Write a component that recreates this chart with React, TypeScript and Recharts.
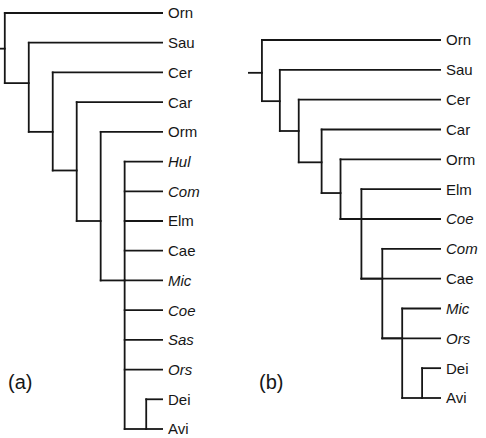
import { LineChart, Line, XAxis, YAxis } from "recharts";

// tree (a): leaves top to bottom
const A_NAMES = ["Orn", "Sau", "Cer", "Car", "Orm", "Hul", "Com", "Elm", "Cae", "Mic", "Coe", "Sas", "Ors", "Dei", "Avi"];
const A_ITALIC = [false, false, false, false, false, true, true, false, false, true, true, true, true, false, false];
const A_LEAF_PARENT = [0, 1, 2, 3, 4, 5, 5, 5, 5, 5, 5, 5, 5, 6, 6];
// internal nodes: depth, vertical span (rows), row where it joins its parent
const A_DEPTH = [0, 1, 2, 3, 4, 5, 5.9];
const A_TOP = [0, 1, 2, 3, 4, 5, 13];
const A_BOTTOM = [2.36, 4, 5.3, 7, 9, 14, 14];
const A_JOIN = [1.2, 2.36, 4, 5.3, 7, 9, 14];
const A_PARENT = [-1, 0, 1, 2, 3, 4, 5];

// tree (b)
const B_NAMES = ["Orn", "Sau", "Cer", "Car", "Orm", "Elm", "Coe", "Com", "Cae", "Mic", "Ors", "Dei", "Avi"];
const B_ITALIC = [false, false, false, false, false, false, true, true, false, true, true, false, false];
const B_LEAF_PARENT = [0, 1, 2, 3, 4, 5, 4, 6, 5, 7, 6, 8, 8];
const B_DEPTH = [0, 0.9, 1.85, 3, 3.95, 5, 6.05, 7.05, 8.05];
const B_TOP = [0, 1, 2, 3, 4, 5, 7, 9, 11];
const B_BOTTOM = [2.05, 3.05, 4.1, 5.13, 6, 8, 10, 12, 12];
const B_JOIN = [1.1, 2.05, 3.05, 4.1, 5.13, 6, 8, 10, 12];
const B_PARENT = [-1, 0, 1, 2, 3, 4, 5, 6, 7];

const FONT = "'Liberation Sans', Arial, Helvetica, sans-serif";
const INK = "#161616";

type Pt = { x: number; y: number };

function buildSegments(
  depth: number[],
  top: number[],
  bottom: number[],
  join: number[],
  parent: number[],
  leafParent: number[],
  leafEnd: number,
  stub: number
): Pt[][] {
  const segs: Pt[][] = [];
  depth.forEach((d, i) => {
    segs.push([{ x: d, y: top[i] }, { x: d, y: bottom[i] }]);
    const from = parent[i] < 0 ? stub : depth[parent[i]];
    segs.push([{ x: from, y: join[i] }, { x: d, y: join[i] }]);
  });
  leafParent.forEach((p, row) => {
    segs.push([{ x: depth[p], y: row }, { x: leafEnd, y: row }]);
  });
  return segs;
}

function makeTick(names: string[], italic: boolean[]) {
  return (props: any) => {
    const { x, y, payload } = props;
    const i = payload.value;
    return (
      <text
        x={x}
        y={y}
        dy="0.36em"
        textAnchor="start"
        fontSize={15}
        fontFamily={FONT}
        fontStyle={italic[i] ? "italic" : "normal"}
        fill={INK}
      >
        {names[i]}
      </text>
    );
  };
}

function Tree({
  names,
  italic,
  segs,
  domain,
  width,
  height,
  margin,
}: {
  names: string[];
  italic: boolean[];
  segs: Pt[][];
  domain: [number, number];
  width: number;
  height: number;
  margin: { top: number; right: number; bottom: number; left: number };
}) {
  const rows = names.map((_, i) => i);
  return (
    <LineChart width={width} height={height} margin={margin}>
      <XAxis type="number" dataKey="x" domain={domain} allowDataOverflow hide />
      <YAxis
        type="number"
        dataKey="y"
        orientation="right"
        reversed
        domain={[0, names.length - 1]}
        ticks={rows}
        interval={0}
        width={45}
        axisLine={false}
        tickLine={false}
        tickSize={0}
        tickMargin={5}
        tick={makeTick(names, italic)}
      />
      {segs.map((s, i) => (
        <Line
          key={i}
          data={s}
          dataKey="y"
          stroke={INK}
          strokeWidth={1.8}
          strokeLinecap="square"
          dot={false}
          activeDot={false}
          isAnimationActive={false}
        />
      ))}
    </LineChart>
  );
}

export default function App() {
  const segA = buildSegments(A_DEPTH, A_TOP, A_BOTTOM, A_JOIN, A_PARENT, A_LEAF_PARENT, 6.6, -0.2);
  const segB = buildSegments(B_DEPTH, B_TOP, B_BOTTOM, B_JOIN, B_PARENT, B_LEAF_PARENT, 9, -0.7);
  const tag = { position: "absolute" as const, top: 371, fontSize: 20, lineHeight: "23px", fontFamily: FONT, color: INK };
  return (
    <div style={{ position: "absolute", left: 0, top: 0, width: 486, height: 438, background: "#fff" }}>
      <div style={{ position: "absolute", left: 0, top: 0 }}>
        <Tree
          names={A_NAMES}
          italic={A_ITALIC}
          segs={segA}
          domain={[-0.2, 6.6]}
          width={208}
          height={438}
          margin={{ top: 13, right: 0, bottom: 9, left: 0 }}
        />
      </div>
      <div style={{ position: "absolute", left: 248, top: 0 }}>
        <Tree
          names={B_NAMES}
          italic={B_ITALIC}
          segs={segB}
          domain={[-0.7, 9]}
          width={238}
          height={438}
          margin={{ top: 40, right: 0, bottom: 40, left: 0 }}
        />
      </div>
      <div style={{ ...tag, left: 8 }}>(a)</div>
      <div style={{ ...tag, left: 259 }}>(b)</div>
    </div>
  );
}
